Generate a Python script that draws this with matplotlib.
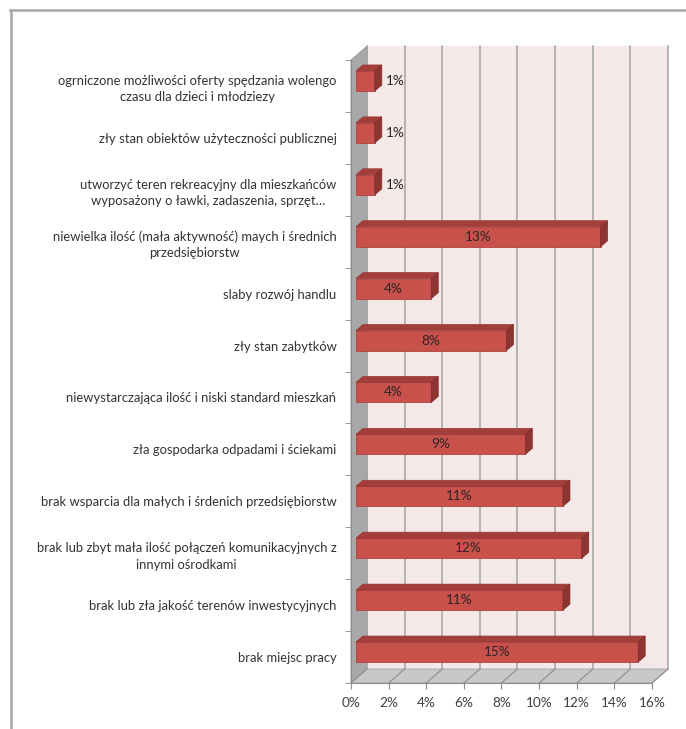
import matplotlib
matplotlib.use("Agg")
import matplotlib.pyplot as plt
from matplotlib.patches import Polygon, Rectangle
from matplotlib.lines import Line2D

plt.rcParams['font.family'] = ['Lato', 'DejaVu Sans']

# categories listed top to bottom, as in the picture
labels = [
    "ogrniczone możliwości oferty spędzania wolengo\nczasu dla dzieci i młodziezy",
    "zły stan obiektów użyteczności publicznej",
    "utworzyć teren rekreacyjny dla mieszkańców\nwyposażony o ławki, zadaszenia, sprzęt…",
    "niewielka ilość (mała aktywność) maych i średnich\nprzedsiębiorstw",
    "slaby rozwój handlu",
    "zły stan zabytków",
    "niewystarczająca ilość i niski standard mieszkań",
    "zła gospodarka odpadami i ściekami",
    "brak wsparcia dla małych i śrdenich przedsiębiorstw",
    "brak lub zbyt mała ilość połączeń komunikacyjnych z\ninnymi ośrodkami",
    "brak lub zła jakość terenów inwestycyjnych",
    "brak miejsc pracy",
]
values = [1, 1, 1, 13, 4, 8, 4, 9, 11, 12, 11, 15]
xticks = [0, 2, 4, 6, 8, 10, 12, 14, 16]

# bottom-to-top order for the axes
labels = labels[::-1]
values = values[::-1]
ypos = list(range(len(values)))

W, H = 686, 729
fig = plt.figure(figsize=(W / 100, H / 100), dpi=100)
ax = fig.add_axes([351 / W, 46 / H, 301 / W, 623 / H])
ax.set_xlim(0, 16)
ax.set_ylim(-0.5, 11.5)

# pixel -> data unit helpers for the fake 3d depth
ux = 301 / 16
uy = 623 / 12
def dx(px):
    return px / ux
def dy(px):
    return px / uy

wx, wy = dx(16), dy(14)
grid_c = '#A4A4A4'

# back wall
ax.add_patch(Rectangle((wx, -0.5 + wy), 16, 12, fc='#F4E8E8', ec='none',
                       zorder=0, clip_on=False))
for x in xticks:
    ax.add_line(Line2D([x + wx, x + wx], [-0.5 + wy, 11.5 + wy], color=grid_c,
                       lw=1.1, zorder=1, clip_on=False))
# left wall
ax.add_patch(Polygon([(0, -0.5), (0, 11.5), (wx, 11.5 + wy), (wx, -0.5 + wy)],
                     closed=True, fc='#A8A8A8', ec='#9C9C9C', lw=0.6,
                     zorder=1, clip_on=False))
# floor
ax.add_patch(Polygon([(0, -0.5), (16, -0.5), (16 + wx, -0.5 + wy), (wx, -0.5 + wy)],
                     closed=True, fc='#C8C8C8', ec='#A4A4A4', lw=0.6,
                     zorder=1, clip_on=False))
for x in xticks:
    ax.add_line(Line2D([x, x + wx], [-0.5, -0.5 + wy], color='#929292',
                       lw=0.9, zorder=1.5, clip_on=False))

# bars with fake depth
bx, by = dx(5), dy(5)
bdx, bdy = dx(7), dy(6)
h = 20 / uy
ax.barh([y + by for y in ypos], values, left=bx, height=h,
        color='#C9514C', edgecolor='#B0423E', lw=0.6, zorder=3)
for y, v in zip(ypos, values):
    top = y + by + h / 2
    bot = y + by - h / 2
    ax.add_patch(Polygon([(bx, top), (bx + v, top), (bx + v + bdx, top + bdy),
                          (bx + bdx, top + bdy)], closed=True, fc='#A43E3B',
                         ec='#953633', lw=0.5, zorder=3))
    ax.add_patch(Polygon([(bx + v, bot), (bx + v, top), (bx + v + bdx, top + bdy),
                          (bx + v + bdx, bot + bdy)], closed=True, fc='#8E3431',
                         ec='#7E2C2A', lw=0.5, zorder=3))
    if v >= 2:
        ax.text(bx + v / 2, y + by, f'{v}%', ha='center', va='center',
                fontsize=9.8, color='#2E2424', zorder=4)
    else:
        ax.text(bx + v + bdx + dx(4), y + by, f'{v}%', ha='left', va='center',
                fontsize=9.8, color='#2E2424', zorder=4)

# axes styling
for s in ['top', 'right']:
    ax.spines[s].set_visible(False)
for s in ['left', 'bottom']:
    ax.spines[s].set_color('#8C8C8C')
    ax.spines[s].set_zorder(2)
ax.set_facecolor('none')

ax.set_xticks(xticks)
ax.set_xticklabels([f'{x}%' for x in xticks], fontsize=9.8, color='#404040')
ax.tick_params(axis='x', length=4, color='#8C8C8C', pad=6)

ax.set_yticks(ypos)
ax.set_yticklabels(labels, fontsize=9.4, color='#333333', linespacing=1.45,
                   multialignment='center')
ax.set_yticks([y - 0.5 for y in ypos] + [11.5], minor=True)
ax.tick_params(axis='y', which='major', length=0, pad=10.5)
ax.tick_params(axis='y', which='minor', length=4, color='#8C8C8C')

# outer chart frame (cut off on the right and bottom)
fig.add_artist(Line2D([10 / W, 1], [1 - 9.5 / H, 1 - 9.5 / H], color='#A8A8A8',
                      lw=1.8, transform=fig.transFigure))
fig.add_artist(Line2D([11 / W, 11 / W], [0, 1 - 9.5 / H], color='#A8A8A8',
                      lw=1.8, transform=fig.transFigure))

fig.savefig('out.png', dpi=100, facecolor='white')
